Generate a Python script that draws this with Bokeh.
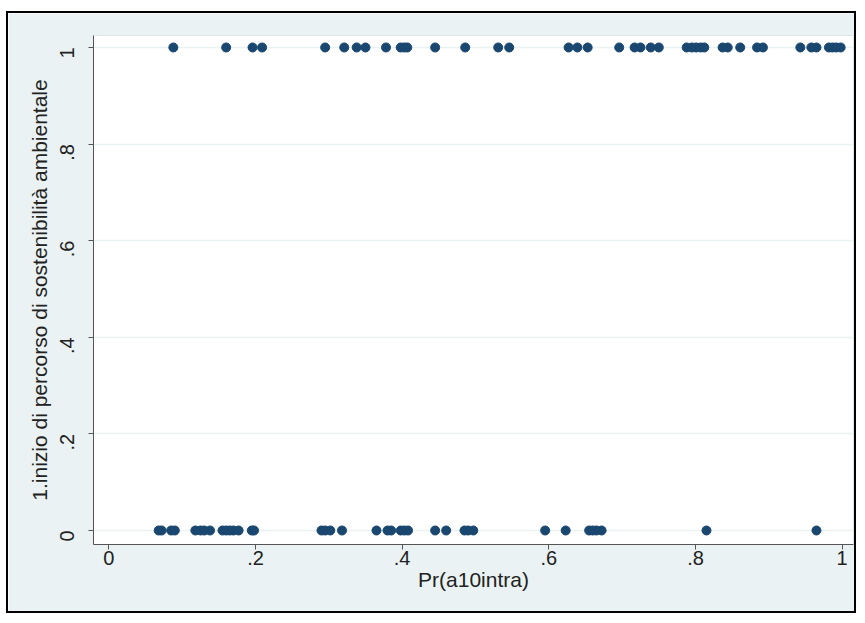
import numpy as np
from bokeh.plotting import figure
from bokeh.models import FixedTicker, Range1d, ColumnDataSource
from bokeh.embed import file_html
from bokeh.resources import INLINE

# Predicted probability for observations with outcome = 1
x_top = [0.088, 0.160, 0.196, 0.209, 0.295, 0.321, 0.338, 0.350, 0.378, 0.398,
         0.403, 0.407, 0.445, 0.486, 0.531, 0.546, 0.627, 0.639, 0.653, 0.696,
         0.717, 0.725, 0.739, 0.750, 0.788, 0.795, 0.801, 0.807, 0.812, 0.837,
         0.844, 0.861, 0.884, 0.892, 0.943, 0.958, 0.965, 0.982, 0.987, 0.992,
         0.998]
# Predicted probability for observations with outcome = 0
x_bottom = [0.068, 0.072, 0.085, 0.090, 0.118, 0.125, 0.130, 0.138, 0.155, 0.160,
            0.165, 0.170, 0.177, 0.195, 0.198, 0.290, 0.295, 0.302, 0.318, 0.365,
            0.380, 0.385, 0.398, 0.403, 0.408, 0.445, 0.460, 0.485, 0.490, 0.497,
            0.595, 0.623, 0.655, 0.660, 0.665, 0.672, 0.815, 0.965]

x_ticks = [0, 0.2, 0.4, 0.6, 0.8, 1]
x_tick_labels = ["0", ".2", ".4", ".6", ".8", "1"]
y_ticks = [0, 0.2, 0.4, 0.6, 0.8, 1]
y_tick_labels = ["0", ".2", ".4", ".6", ".8", "1"]

BG = "#EAF2F3"
NAVY = "#1A476F"
FONT = "Liberation Sans"

p = figure(width=850, height=602, output_backend="svg", toolbar_location=None,
           x_range=Range1d(-0.0209, 1.0155), y_range=Range1d(-0.029, 1.0248),
           min_border_left=85, min_border_right=5, min_border_top=22, min_border_bottom=71)
p.background_fill_color = "white"
p.border_fill_color = BG
p.outline_line_color = "#DDE6E8"
p.outline_line_width = 1
p.styles = {"border": "2px solid black",
            "margin-left": "6px", "margin-top": "11px"}

xs = list(x_top) + list(x_bottom)
ys = [1] * len(x_top) + [0] * len(x_bottom)
src = ColumnDataSource(dict(x=xs, y=ys))
p.scatter("x", "y", source=src, size=9, fill_color=NAVY, line_color=NAVY)

p.xgrid.visible = False
p.ygrid.ticker = FixedTicker(ticks=y_ticks)
p.ygrid.grid_line_color = BG
p.ygrid.grid_line_width = 1.5

for ax in (p.xaxis[0], p.yaxis[0]):
    ax.axis_line_color = "#555555"
    ax.major_tick_line_color = "#555555"
    ax.major_tick_out = 5
    ax.major_tick_in = 0
    ax.minor_tick_out = 0
    ax.minor_tick_in = 0
    ax.major_label_text_font = FONT
    ax.major_label_text_font_size = "20px"
    ax.major_label_text_color = "#222222"
    ax.axis_label_text_font = FONT
    ax.axis_label_text_font_size = "21px"
    ax.axis_label_text_font_style = "normal"
    ax.axis_label_text_color = "#222222"

p.xaxis.ticker = FixedTicker(ticks=x_ticks)
p.xaxis.major_label_overrides = {t: l for t, l in zip(x_ticks, x_tick_labels)}
p.xaxis.axis_label = "Pr(a10intra)"
p.xaxis.axis_label_standoff = 0
p.xaxis.major_label_standoff = 1

p.yaxis.ticker = FixedTicker(ticks=y_ticks)
p.yaxis.major_label_orientation = np.pi / 2
p.yaxis.major_label_overrides = {t: l for t, l in zip(y_ticks, y_tick_labels)}
p.yaxis.axis_label = "1.inizio di percorso di sostenibilità ambientale"
p.yaxis.axis_label_standoff = 0
p.yaxis.major_label_standoff = 21

open("out.html", "w").write(file_html(p, INLINE))
